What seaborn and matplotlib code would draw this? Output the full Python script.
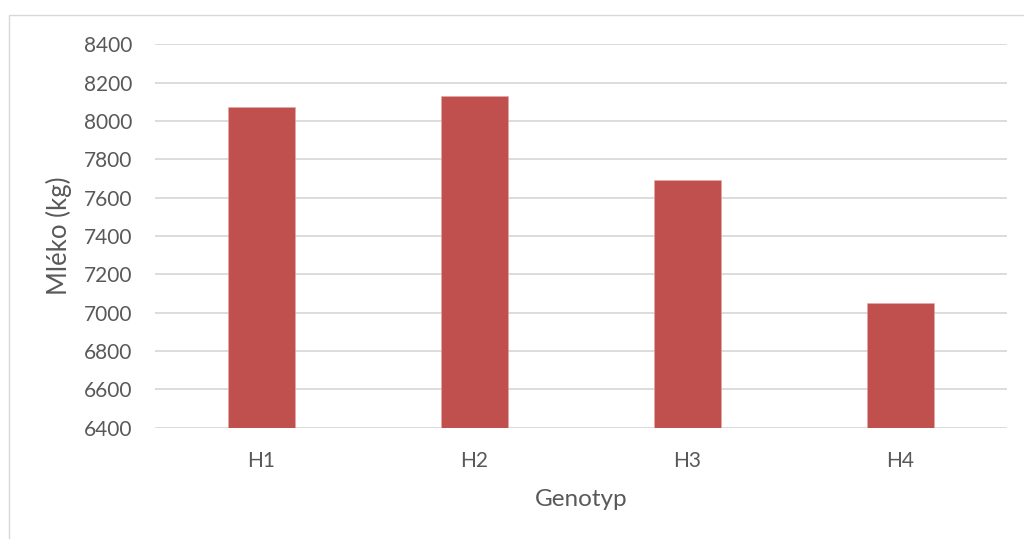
import matplotlib
matplotlib.use("Agg")
import matplotlib.pyplot as plt
from matplotlib.patches import Rectangle
import seaborn as sns
import pandas as pd

# Average milk yield per genotype
genotypes = ["H1", "H2", "H3", "H4"]
milk_kg = [8071, 8128, 7691, 7050]
y_ticks = [6400, 6600, 6800, 7000, 7200, 7400, 7600, 7800, 8000, 8200, 8400]

df = pd.DataFrame({"Genotyp": genotypes, "Mleko": milk_kg})

sns.set_theme(style="white")
plt.rcParams["font.family"] = ["Lato", "DejaVu Sans"]

text_color = "#595959"
grid_color = "#d9d9d9"
bar_color = "#C0504D"

fig = plt.figure(figsize=(10.24, 5.39), dpi=100)
fig.patch.set_facecolor("white")

# light chart-area frame
fig.patches.append(Rectangle((9 / 1024, -0.1), 1.2, 1 - 15.5 / 539 + 0.1,
                             transform=fig.transFigure, fill=False,
                             edgecolor=grid_color, linewidth=1.0, zorder=0))

ax = fig.add_axes([155 / 1024, 1 - 427.5 / 539, 852 / 1024, (427.5 - 44.3) / 539])

sns.barplot(data=df, x="Genotyp", y="Mleko", order=genotypes, color=bar_color,
            saturation=1, width=0.313, ax=ax, zorder=3, edgecolor="#e8a8a6",
            linewidth=0.4)

ax.set_ylim(6400, 8400)
ax.set_xlim(-0.5, 3.5)
ax.set_yticks(y_ticks)
ax.set_yticklabels([str(v) for v in y_ticks])
ax.yaxis.grid(True, color=grid_color, linewidth=1.3, zorder=0)
ax.set_axisbelow(True)
for s in ax.spines.values():
    s.set_visible(False)

ax.tick_params(axis="y", length=0, pad=16.5, labelsize=15, labelcolor=text_color)
ax.tick_params(axis="x", length=0, pad=17, labelsize=15, labelcolor=text_color)

ax.set_xlabel("Genotyp", fontsize=17.5, color=text_color, labelpad=13)
ax.set_ylabel("Mléko (kg)", fontsize=18.5, color=text_color, labelpad=8)

fig.savefig("out.png", dpi=100, facecolor="white")
